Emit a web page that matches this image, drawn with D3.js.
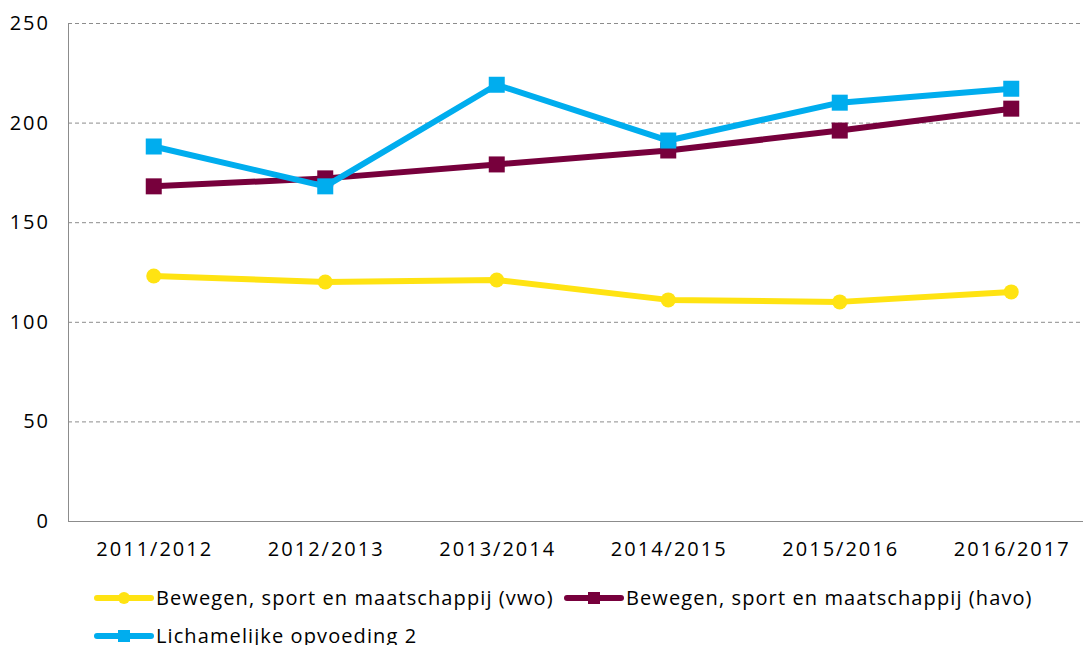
<!DOCTYPE html>
<html>
<head>
<meta charset="utf-8">
<script src="https://cdn.jsdelivr.net/npm/d3@7"></script>
<style>
  body { margin: 0; background: #fff; }
  text { font-family: "Open Sans", "Noto Sans", sans-serif; fill: #000; }
</style>
</head>
<body>
<div id="chart"></div>
<script>
// data
var years = ["2011/2012", "2012/2013", "2013/2014", "2014/2015", "2015/2016", "2016/2017"];
var vwo = [123, 120, 121, 111, 110, 115];
var havo = [168, 172, 179, 186, 196, 207];
var lo2 = [188, 168, 219, 191, 210, 217];
var yTicks = [0, 50, 100, 150, 200, 250];

var series = [
    { name: "Bewegen, sport en maatschappij (vwo)", values: vwo, color: "#ffe312", shape: "circle" },
    { name: "Bewegen, sport en maatschappij (havo)", values: havo, color: "#77003c", shape: "square" },
    { name: "Lichamelijke opvoeding 2", values: lo2, color: "#00adee", shape: "square" }
];

var width = 1083, height = 645;
var m = { left: 68, top: 23, bottom: 521 };

var svg = d3.select("#chart").append("svg")
    .attr("width", width)
    .attr("height", height);

var x = d3.scaleBand().domain(years).range([m.left, m.left + 6 * 171.5]);
var y = d3.scaleLinear().domain([0, 250]).range([m.bottom, m.top]);

// gridlines
svg.append("g").selectAll("line")
    .data(yTicks.filter(function(d) { return d > 0; }))
    .enter().append("line")
    .attr("x1", m.left).attr("x2", width)
    .attr("y1", function(d) { return y(d) + 0.5; })
    .attr("y2", function(d) { return y(d) + 0.5; })
    .attr("stroke", "#8c8c8c")
    .attr("stroke-width", 1)
    .attr("stroke-dasharray", "4,3");

// axes lines
svg.append("line")
    .attr("x1", m.left + 0.5).attr("x2", m.left + 0.5)
    .attr("y1", m.top).attr("y2", m.bottom)
    .attr("stroke", "#8c8c8c");
svg.append("line")
    .attr("x1", m.left).attr("x2", width)
    .attr("y1", m.bottom + 0.5).attr("y2", m.bottom + 0.5)
    .attr("stroke", "#8c8c8c");

// y labels
svg.append("g").selectAll("text")
    .data(yTicks)
    .enter().append("text")
    .attr("x", 50)
    .attr("y", function(d) { return y(d); })
    .attr("dy", "0.35em")
    .attr("text-anchor", "end")
    .style("font-size", "20px")
    .style("letter-spacing", "2px")
    .text(function(d) { return d; });

// x labels
svg.append("g").selectAll("text")
    .data(years)
    .enter().append("text")
    .attr("x", function(d) { return x(d) + x.bandwidth() / 2 + 1; })
    .attr("y", 556)
    .attr("text-anchor", "middle")
    .style("font-size", "20px")
    .style("letter-spacing", "2px")
    .text(function(d) { return d; });

var line = d3.line()
    .x(function(d, i) { return x(years[i]) + x.bandwidth() / 2; })
    .y(function(d) { return y(d); });

function drawMarker(g, shape, color, cx, cy) {
    if (shape === "circle") {
        g.append("circle").attr("cx", cx).attr("cy", cy).attr("r", 7.5).attr("fill", color);
    } else {
        g.append("rect").attr("x", cx - 8).attr("y", cy - 8)
            .attr("width", 16).attr("height", 16).attr("fill", color);
    }
}

series.forEach(function(s) {
    var g = svg.append("g");
    g.append("path")
        .attr("d", line(s.values))
        .attr("fill", "none")
        .attr("stroke", s.color)
        .attr("stroke-width", 6)
        .attr("stroke-linejoin", "round");
    s.values.forEach(function(v, i) {
        drawMarker(g, s.shape, s.color, x(years[i]) + x.bandwidth() / 2, y(v));
    });
});

// legend
var legendPos = [[97, 598], [567, 598], [97, 636]];
series.forEach(function(s, i) {
    var g = svg.append("g").attr("transform", "translate(" + legendPos[i][0] + "," + legendPos[i][1] + ")");
    g.append("line").attr("x1", 0).attr("x2", 54).attr("y1", 0).attr("y2", 0)
        .attr("stroke", s.color).attr("stroke-width", 6).attr("stroke-linecap", "round");
    if (s.shape === "circle") {
        g.append("circle").attr("cx", 27).attr("cy", 0).attr("r", 6).attr("fill", s.color);
    } else {
        g.append("rect").attr("x", 21).attr("y", -6).attr("width", 12).attr("height", 12).attr("fill", s.color);
    }
    g.append("text").attr("x", 59).attr("y", 0).attr("dy", "0.35em")
        .style("font-size", "20px")
        .style("letter-spacing", "1.1px")
        .text(s.name);
});
</script>
</body>
</html>
